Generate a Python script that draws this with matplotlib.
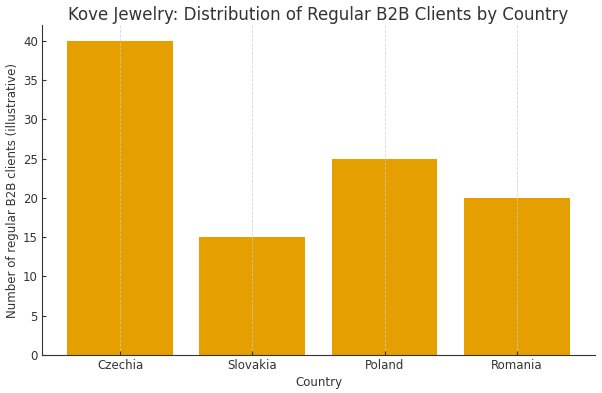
import matplotlib
matplotlib.use("Agg")
import matplotlib.pyplot as plt

countries = ["Czechia", "Slovakia", "Poland", "Romania"]
clients = [40, 15, 25, 20]

fig = plt.figure(figsize=(6.02, 3.93), dpi=100)
ax = fig.add_axes([0.07, 0.097, 0.918, 0.839])
ax.bar(countries, clients, color="#E69F00", width=0.8)
ax.set_axisbelow(False)
ax.grid(True, axis="x", linestyle="--", linewidth=0.6, color="#cccccc", alpha=0.8)
ax.set_title("Kove Jewelry: Distribution of Regular B2B Clients by Country", fontsize=12, color="#333333", pad=4)
ax.set_xlabel("Country", fontsize=8.5, color="#333333", labelpad=3)
ax.set_ylabel("Number of regular B2B clients (illustrative)", fontsize=8.5, color="#333333", labelpad=3)
ax.tick_params(labelsize=8.5, colors="#333333", direction="in", length=3, pad=3)
for s in ["top", "right"]:
    ax.spines[s].set_visible(False)
for s in ["left", "bottom"]:
    ax.spines[s].set_color("#333333")
fig.savefig("out.png", dpi=100)
